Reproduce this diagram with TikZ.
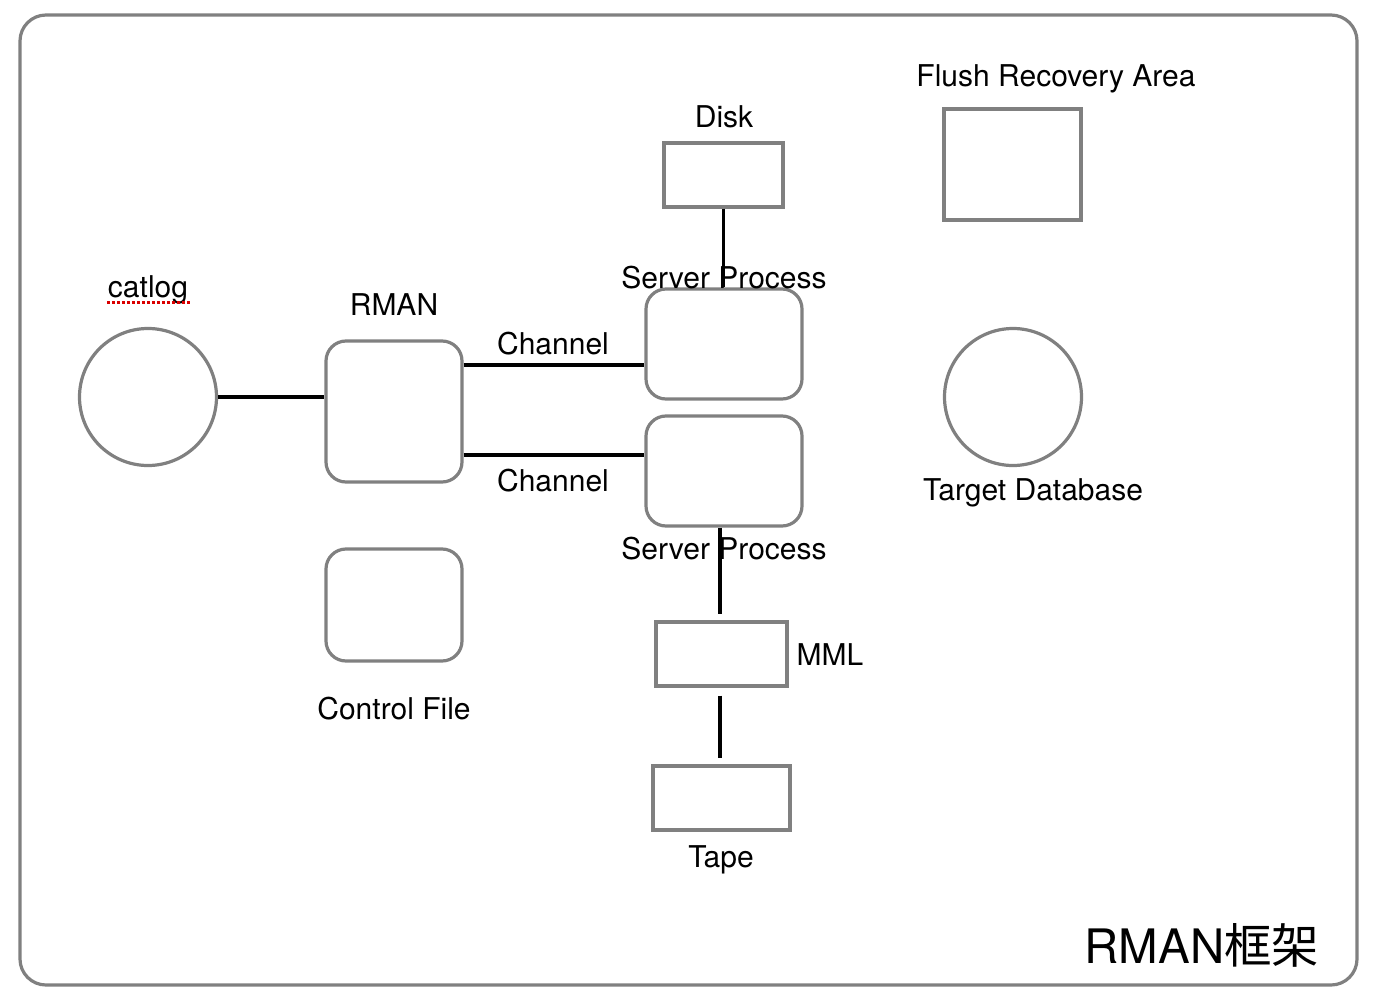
\documentclass[tikz,border=0pt]{standalone}
\usepackage{fontspec}
\setmainfont{TeX Gyre Heros}
\newfontfamily\cjk{Noto Sans CJK SC}
\begin{document}
\begin{tikzpicture}[x=1pt,y=-1pt,
  gbox/.style={draw=black!50,line width=3.2pt,fill=white,inner sep=0pt},
  rbox/.style={gbox,rounded corners=20pt},
  circ/.style={gbox,circle,minimum size=137pt},
  conn/.style={draw=black,line width=3.5pt},
  lbl/.style={font=\fontsize{30}{32}\selectfont,inner sep=0pt}]
\useasboundingbox (0,0) rectangle (1380,1000);
\draw[draw=black!50,line width=3.2pt,rounded corners=26pt] (20,15) rectangle (1357,985);
% nodes
\node[circ] (cat) at (148,397) {};
\node[lbl] (catl) at (148,290) {catlog};
\draw[red!85!black,line width=3pt,dash pattern=on 3pt off 2pt] (107,302) -- (191,302);
\node[rbox,minimum width=136pt,minimum height=141pt] (rman) at (394,411.5) {};
\node[lbl] (rmanl) at (394,305) {RMAN};
\node[rbox,minimum width=156pt,minimum height=110pt] (sp1) at (724,344) {};
\node[rbox,minimum width=156pt,minimum height=110pt] (sp2) at (724,471) {};
\node[gbox,minimum width=119pt,minimum height=64pt] (disk) at (723.5,175) {};
\node[lbl] (diskl) at (724,117) {Disk};
\node[gbox,minimum width=131pt,minimum height=64pt] (mml) at (721.5,654) {};
\node[lbl] (mmll) at (830,655) {MML};
\node[gbox,minimum width=137pt,minimum height=64pt] (tape) at (721.5,798) {};
\node[lbl] (tapel) at (721,860) {Tape};
\node[gbox,minimum width=137pt,minimum height=111pt] (fra) at (1012.5,164.5) {};
\node[lbl] (fral) at (1056,79) {Flush Recovery Area};
\node[circ] (tdb) at (1013,397) {};
\node[lbl] (tdbl) at (1033,493) {Target Database};
\node[rbox,minimum width=136pt,minimum height=112pt] (cf) at (394,605) {};
\node[lbl] (cfl) at (394,709) {Control File};
% connectors
\draw[conn] (cat.east) -- (rman.west |- cat.east);
\draw[conn] (rman.east |- 0,365) coordinate (c1) -- (sp1.west |- c1);
\draw[conn] (rman.east |- 0,455) coordinate (c2) -- (sp2.west |- c2);
\node[lbl] (ch1) at (553,344) {Channel};
\node[lbl] (ch2) at (553,481) {Channel};
\draw[conn] (disk.south) -- (disk.south |- sp1.north);
\draw[conn] (sp2.south -| 720,0) coordinate (s2) -- ([yshift=6pt]mml.north -| s2);
\draw[conn] ([yshift=-8pt]mml.south -| s2) -- ([yshift=6pt]tape.north -| s2);
\node[lbl] (sp1l) at (724,278) {Server Process};
\node[lbl] (sp2l) at (724,549) {Server Process};
\node[inner sep=0pt,font=\fontsize{47.5}{50}\selectfont] (title) at (1202,945) {RMAN{\cjk 框架}};
\end{tikzpicture}
\end{document}
